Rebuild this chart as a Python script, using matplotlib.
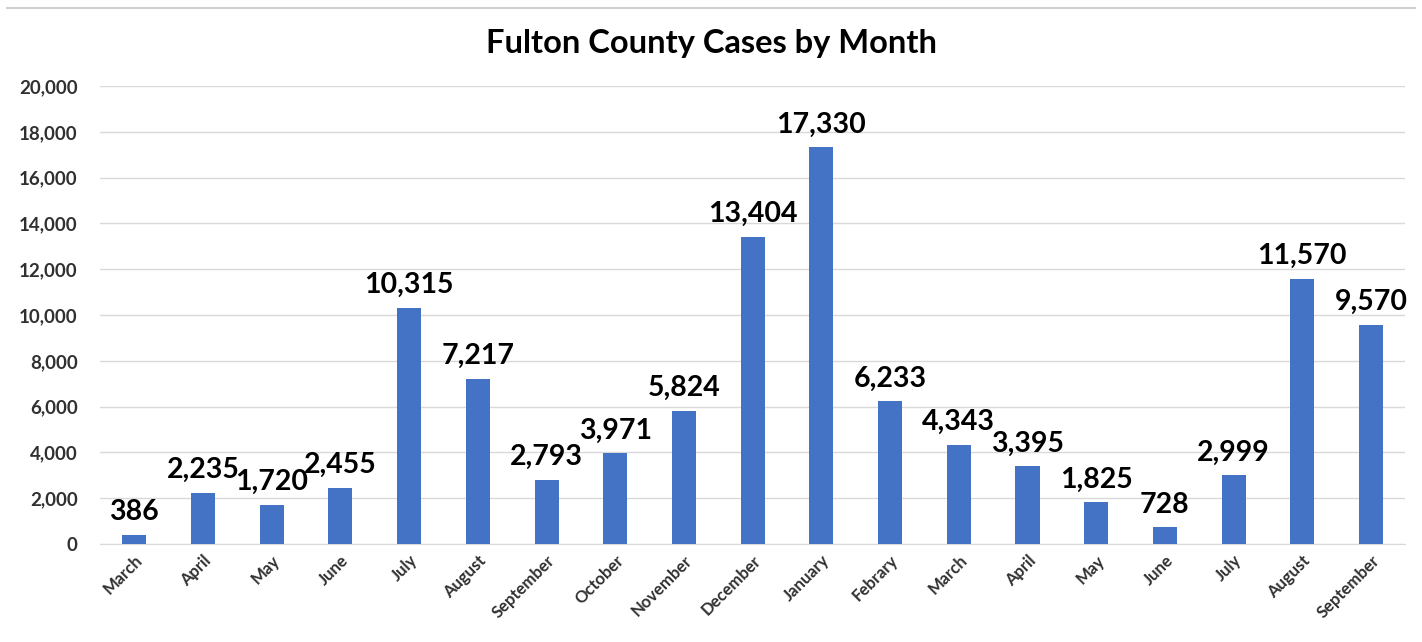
import matplotlib.pyplot as plt
import numpy as np

months = ["March", "April", "May", "June", "July", "August", "September",
          "October", "November", "December", "January", "Febrary", "March",
          "April", "May", "June", "July", "August", "September"]
cases = [386, 2235, 1720, 2455, 10315, 7217, 2793, 3971, 5824, 13404,
         17330, 6233, 4343, 3395, 1825, 728, 2999, 11570, 9570]

plt.rcParams['font.family'] = ['Lato', 'DejaVu Sans']

fig = plt.figure(figsize=(14.22, 6.42), dpi=100)
ax = fig.add_axes([0.0703, 0.1526, 0.918, 0.7134])

x = np.arange(len(cases))
bars = ax.bar(x, cases, width=0.35, color="#4472C4", zorder=3)

for xi, v in zip(x, cases):
    ax.annotate(f"{v:,}", (xi, v), xytext=(0, 7), textcoords="offset points",
                ha="center", va="bottom", fontsize=20.5, fontweight="bold",
                color="black")

ax.set_xlim(-0.5, len(cases) - 0.5)
ax.set_ylim(0, 20000)
ax.set_yticks(np.arange(0, 20001, 2000))
ax.set_yticklabels([f"{t:,}" for t in range(0, 20001, 2000)],
                   fontsize=13.5, fontweight="bold", color="#303030")
ax.set_xticks(x)
ax.set_xticklabels(months, rotation=45, ha="right", rotation_mode="anchor",
                   fontsize=12, fontweight="bold", color="#303030")
ax.tick_params(axis="both", length=0)
ax.tick_params(axis="y", pad=16)
ax.tick_params(axis="x", pad=6)

ax.grid(axis="y", color="#d9d9d9", linewidth=1, zorder=0)
for s in ["top", "right", "left"]:
    ax.spines[s].set_visible(False)
ax.spines["bottom"].set_color("#d9d9d9")

fig.text(0.5, 0.932, "Fulton County Cases by Month", ha="center",
         va="center", fontsize=23.5, fontweight="bold", color="black")

# remnant of the cropped chart above
fig.add_artist(plt.Line2D([0.005, 0.995], [0.988, 0.988],
                          color="#d0d0d0", linewidth=1.5))

fig.savefig("out.png", dpi=100)
